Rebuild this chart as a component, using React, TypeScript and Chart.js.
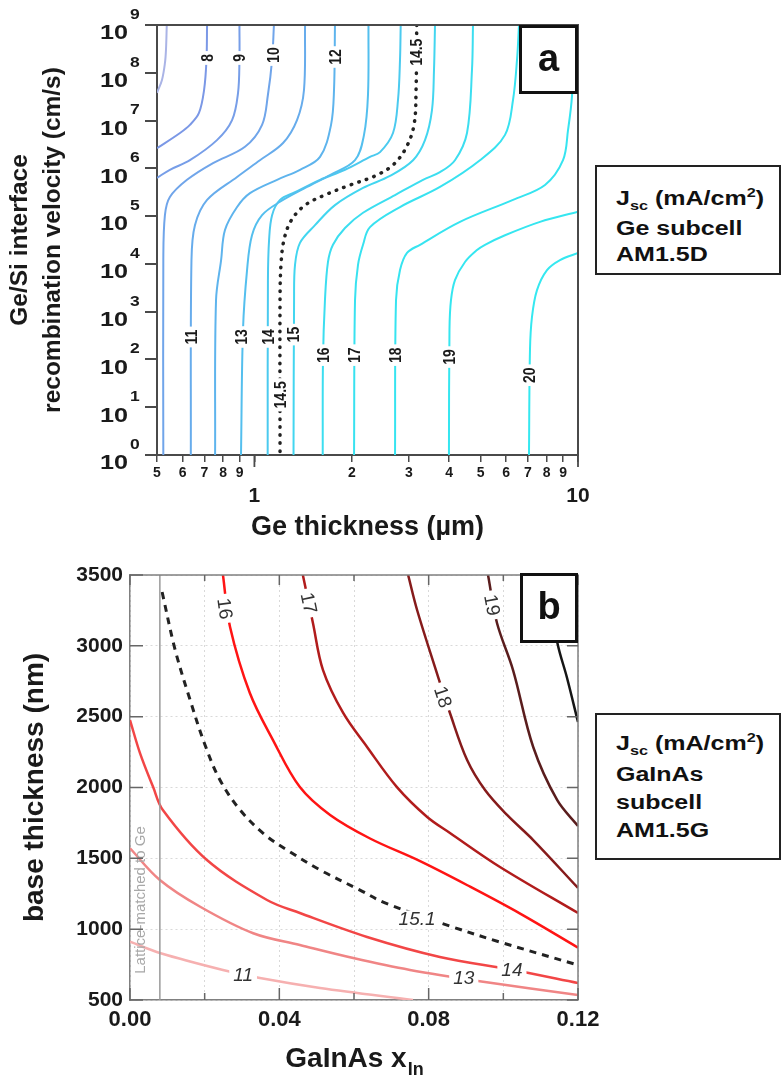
import React, { useEffect, useRef } from 'react';
import { Chart, registerables } from 'chart.js';

Chart.register(...registerables);

type Pt = [number, number];

const FONT = '"Liberation Sans", Arial, Helvetica, sans-serif';

// ======================= Panel (a) data =======================
// Ge thickness (µm) on x, Ge/Si interface recombination velocity (cm/s) on y.
// Contour points are [thickness µm, log10(velocity)].
const A_X_TICKS = [0.5, 0.6, 0.7, 0.8, 0.9, 1, 2, 3, 4, 5, 6, 7, 8, 9, 10];
const A_X_TICK_LABELS = ['5', '6', '7', '8', '9', '1', '2', '3', '4', '5', '6', '7', '8', '9', '10'];
const A_X_MAJOR_TICKS = [1, 10];
const A_Y_EXPONENTS = [0, 1, 2, 3, 4, 5, 6, 7, 8, 9];

const A_JSC_07: Pt[] = [[0.536, 9], [0.533, 8.48], [0.529, 8.2], [0.518, 7.85], [0.5, 7.58]];
const A_JSC_08: Pt[] = [[0.714, 9], [0.711, 8.27], [0.699, 7.64], [0.674, 7.16], [0.632, 6.91], [0.589, 6.74], [0.5, 6.42]];
const A_JSC_09: Pt[] = [[0.899, 9], [0.899, 8.27], [0.89, 7.58], [0.853, 7.01], [0.766, 6.59], [0.632, 6.17], [0.548, 5.97], [0.5, 5.8]];
const A_JSC_10: Pt[] = [[1.149, 9], [1.134, 8.27], [1.101, 7.54], [1.056, 6.91], [0.935, 6.45], [0.745, 6.11], [0.619, 5.76], [0.548, 5.4], [0.529, 5.02], [0.523, 4.08], [0.523, 0]];
const A_JSC_11: Pt[] = [[1.434, 9], [1.423, 7.64], [1.354, 7.01], [1.226, 6.53], [1.04, 6.17], [0.884, 5.82], [0.714, 5.34], [0.655, 4.81], [0.639, 4.08], [0.636, 0]];
const A_JSC_12: Pt[] = [[1.774, 9], [1.762, 7.64], [1.725, 6.91], [1.595, 6.24], [1.383, 5.97], [1.175, 5.76], [0.969, 5.48], [0.884, 5.19], [0.811, 4.71], [0.789, 4.08], [0.761, 3.24], [0.756, 0]];
const A_JSC_13: Pt[] = [[2.252, 9], [2.244, 7.54], [2.181, 6.7], [2.046, 6.17], [1.712, 5.86], [1.454, 5.61], [1.2, 5.3], [1.056, 5.02], [0.983, 4.6], [0.949, 3.87], [0.922, 2.62], [0.909, 0]];
const A_JSC_14: Pt[] = [[2.832, 9], [2.818, 8.27], [2.778, 7.43], [2.681, 6.74], [2.445, 6.34], [2.276, 6.24], [1.905, 5.97], [1.595, 5.76], [1.335, 5.5], [1.2, 5.34], [1.134, 5.02], [1.11, 4.5], [1.101, 3.66], [1.099, 0]];
const A_JSC_145: Pt[] = [[3.174, 9], [3.159, 7.64], [3.114, 6.91], [2.942, 6.43], [2.681, 6.07], [2.359, 5.84], [1.975, 5.65], [1.676, 5.46], [1.434, 5.23], [1.297, 4.9], [1.234, 4.5], [1.208, 3.98], [1.2, 3.24], [1.2, 0]];
const A_JSC_15: Pt[] = [[3.615, 9], [3.589, 8.06], [3.538, 7.22], [3.366, 6.59], [3.092, 6.17], [2.624, 5.84], [2.166, 5.59], [1.774, 5.23], [1.539, 4.81], [1.383, 4.44], [1.335, 3.98], [1.326, 3.24], [1.321, 0]];
const A_JSC_16: Pt[] = [[4.737, 9], [4.703, 8.06], [4.539, 6.74], [4.167, 6.17], [3.745, 5.92], [3.319, 5.76], [2.72, 5.44], [2.166, 5.07], [1.905, 4.75], [1.749, 4.4], [1.688, 4.04], [1.652, 3.24], [1.629, 1.99], [1.626, 0]];
const A_JSC_17: Pt[] = [[6.572, 9], [6.479, 8.27], [6.297, 7.43], [5.949, 6.7], [4.978, 6.17], [3.745, 5.61], [2.818, 5.19], [2.276, 4.77], [2.166, 4.4], [2.09, 3.98], [2.046, 3.24], [2.032, 0]];
const A_JSC_18: Pt[] = [[9.789, 9], [9.582, 7.51], [9.314, 6.8], [8.988, 6.17], [7.907, 5.65], [6.297, 5.34], [4.318, 4.88], [3.249, 4.4], [2.962, 4.23], [2.818, 3.87], [2.739, 3.24], [2.72, 0]];
const A_JSC_19: Pt[] = [[10, 5.09], [7.631, 4.88], [5.949, 4.6], [5.159, 4.4], [4.874, 4.29], [4.475, 4.04], [4.167, 3.66], [4.05, 3.24], [4.007, 2.62], [3.992, 0]];
const A_JSC_20: Pt[] = [[10, 4.23], [8.798, 4.08], [8.02, 3.87], [7.469, 3.45], [7.208, 2.89], [7.106, 2.2], [7.055, 0]];

const A_LEVELS = [7, 8, 9, 10, 11, 12, 13, 14, 14.5, 15, 16, 17, 18, 19, 20];
const A_CONTOURS: Pt[][] = [A_JSC_07, A_JSC_08, A_JSC_09, A_JSC_10, A_JSC_11, A_JSC_12, A_JSC_13, A_JSC_14, A_JSC_145, A_JSC_15, A_JSC_16, A_JSC_17, A_JSC_18, A_JSC_19, A_JSC_20];

const A_LABEL_TEXT = ['8', '9', '10', '12', '14.5', '11', '13', '14', '14.5', '15', '16', '17', '18', '19', '20'];
const A_LABEL_X = [0.714, 0.899, 1.141, 1.774, 3.167, 0.636, 0.909, 1.099, 1.2, 1.321, 1.626, 2.032, 2.72, 3.992, 7.055];
const A_LABEL_LOGV = [8.31, 8.31, 8.37, 8.33, 8.43, 2.47, 2.47, 2.47, 1.26, 2.52, 2.09, 2.09, 2.09, 2.05, 1.67];

// ======================= Panel (b) data =======================
// GaInAs x_In on x, base thickness (nm) on y. Points are [x_In, thickness nm].
const B_X_TICKS = [0, 0.02, 0.04, 0.06, 0.08, 0.1, 0.12];
const B_X_TICK_LABELS = ['0.00', '', '0.04', '', '0.08', '', '0.12'];
const B_Y_TICKS = [500, 1000, 1500, 2000, 2500, 3000, 3500];
const LATTICE_MATCHED_X = 0.008;

const B_JSC_11: Pt[] = [[0, 911], [0.008, 832], [0.0249, 712], [0.0348, 655], [0.0509, 585], [0.0758, 500]];
const B_JSC_13: Pt[] = [[0, 1571], [0.008, 1347], [0.0188, 1158], [0.033, 971], [0.0455, 888], [0.0598, 796], [0.075, 712], [0.0946, 629], [0.12, 535]];
const B_JSC_14: Pt[] = [[0, 2476], [0.0027, 2241], [0.0062, 2003], [0.0088, 1841], [0.0206, 1488], [0.0367, 1206], [0.0455, 1114], [0.0635, 945], [0.083, 804], [0.1026, 712], [0.12, 620]];
const B_JSC_151: Pt[] = [[0.0086, 3380], [0.0121, 2971], [0.0161, 2618], [0.0201, 2300], [0.0241, 2053], [0.0295, 1841], [0.0362, 1665], [0.0429, 1545], [0.0509, 1418], [0.0616, 1276], [0.0683, 1185], [0.0857, 1022], [0.0991, 909], [0.12, 747]];
const B_JSC_16: Pt[] = [[0.0249, 3500], [0.0268, 3133], [0.0321, 2667], [0.0383, 2335], [0.0455, 2003], [0.0536, 1806], [0.0643, 1640], [0.0777, 1480], [0.0911, 1300], [0.1045, 1110], [0.12, 870]];
const B_JSC_17: Pt[] = [[0.0463, 3500], [0.049, 3161], [0.0517, 2829], [0.0571, 2526], [0.0635, 2286], [0.0715, 2003], [0.0796, 1792], [0.0857, 1679], [0.0991, 1439], [0.12, 1114]];
const B_JSC_18: Pt[] = [[0.0745, 3500], [0.0769, 3253], [0.0822, 2808], [0.0857, 2526], [0.0903, 2194], [0.0951, 1982], [0.101, 1806], [0.108, 1629], [0.12, 1291]];
const B_JSC_19: Pt[] = [[0.0959, 3500], [0.0983, 3161], [0.1026, 2829], [0.108, 2286], [0.1144, 1912], [0.12, 1728]];
const B_JSC_20: Pt[] = [[0.111, 3500], [0.1146, 3006], [0.117, 2780], [0.12, 2462]];

const B_LEVELS = [11, 13, 14, 15.1, 16, 17, 18, 19, 20];
const B_CONTOURS: Pt[][] = [B_JSC_11, B_JSC_13, B_JSC_14, B_JSC_151, B_JSC_16, B_JSC_17, B_JSC_18, B_JSC_19, B_JSC_20];

const B_LABEL_TEXT = ['11', '13', '14', '15.1', '16', '17', '18', '19'];
const B_LABEL_X = [0.0303, 0.0894, 0.1023, 0.0769, 0.0254, 0.0479, 0.0838, 0.097];
const B_LABEL_Y = [676, 655, 712, 1072, 3263, 3302, 2639, 3288];

// ======================= styles =======================
const A_COLORS = ['#aab4e6', '#7b98e6', '#779ee8', '#70a5ea', '#67acec', '#5eb4ed', '#54bfee', '#4bcaef', '#222222', '#42d6f0', '#3cdef0', '#38e2f0', '#36e4f0', '#35e6f0', '#35e8f0'];
const B_COLORS = ['#f6b0b0', '#f08585', '#f24646', '#222222', '#ff1414', '#b11c1c', '#861b1b', '#5a1d1d', '#151515'];
const B_LABEL_ALONG_LINE = [false, false, false, false, true, true, true, true];

function drawText(ctx: CanvasRenderingContext2D, text: string, x: number, y: number, font: string, opts: { align?: CanvasTextAlign; baseline?: CanvasTextBaseline; color?: string; angle?: number; sx?: number } = {}) {
  ctx.save();
  ctx.translate(x, y);
  ctx.scale(opts.sx ?? 1, 1);
  if (opts.angle) ctx.rotate(opts.angle);
  ctx.font = font;
  ctx.fillStyle = opts.color ?? '#1a1a1a';
  ctx.textAlign = opts.align ?? 'center';
  ctx.textBaseline = opts.baseline ?? 'middle';
  ctx.fillText(text, 0, 0);
  ctx.restore();
}

function drawContourLabel(ctx: CanvasRenderingContext2D, text: string, x: number, y: number, angle: number, size: number, font: string, color: string, sx: number, gap: number) {
  ctx.save();
  ctx.translate(x, y);
  ctx.scale(sx, 1);
  ctx.rotate(angle);
  ctx.font = font;
  const w = ctx.measureText(text).width;
  ctx.fillStyle = '#ffffff';
  ctx.fillRect(-w / 2 - gap, -size * 0.45, w + 2 * gap, size * 0.9);
  ctx.fillStyle = color;
  ctx.textAlign = 'center';
  ctx.textBaseline = 'middle';
  ctx.fillText(text, 0, 1);
  ctx.restore();
}

function drawPanelBox(ctx: CanvasRenderingContext2D, letter: string, l: number, t: number, r: number, b: number) {
  ctx.save();
  ctx.fillStyle = '#fff';
  ctx.fillRect(l, t, r - l, b - t);
  ctx.strokeStyle = '#111';
  ctx.lineWidth = 3;
  ctx.strokeRect(l + 1.5, t + 1.5, r - l - 3, b - t - 3);
  ctx.restore();
  drawText(ctx, letter, (l + r) / 2, (t + b) / 2 + 1, 'bold 38px ' + FONT, { color: '#111' });
}

const panelAPlugin = {
  id: 'panelA',
  afterDatasetsDraw(chart: any) {
    const ctx: CanvasRenderingContext2D = chart.ctx;
    const xs = chart.scales.x;
    const ys = chart.scales.y;
    A_LABEL_TEXT.forEach((t, i) => {
      const px = xs.getPixelForValue(A_LABEL_X[i]);
      const py = ys.getPixelForValue(Math.pow(10, A_LABEL_LOGV[i]));
      drawContourLabel(ctx, t, px, py, -Math.PI / 2, 14, 'bold 14px ' + FONT, '#1a1a1a', 1.2, 3);
    });
  },
  afterDraw(chart: any) {
    const ctx: CanvasRenderingContext2D = chart.ctx;
    const { left, right, top, bottom } = chart.chartArea;
    const xs = chart.scales.x;
    const ys = chart.scales.y;
    ctx.save();
    ctx.strokeStyle = '#4a4a4a';
    ctx.lineWidth = 2;
    ctx.beginPath();
    ctx.moveTo(left - 1, top);
    ctx.lineTo(right, top);
    ctx.lineTo(right, bottom + 1);
    ctx.stroke();
    // longer major ticks on x
    ctx.lineWidth = 1.8;
    A_X_MAJOR_TICKS.forEach((v) => {
      const px = xs.getPixelForValue(v);
      ctx.beginPath();
      ctx.moveTo(px, bottom);
      ctx.lineTo(px, bottom + 12);
      ctx.stroke();
    });
    ctx.restore();
    // y tick labels 10^n
    A_Y_EXPONENTS.forEach((e) => {
      const py = ys.getPixelForValue(Math.pow(10, e));
      drawText(ctx, '10', left - 29, py + 8.5, 'bold 21px ' + FONT, { align: 'right', sx: 1.2 });
      drawText(ctx, String(e), left - 27, py - 10, 'bold 14px ' + FONT, { align: 'left', sx: 1.25 });
    });
    // axis titles
    const cy = (top + bottom) / 2;
    drawText(ctx, 'Ge/Si interface', 20, cy, 'bold 24.5px ' + FONT, { angle: -Math.PI / 2 });
    drawText(ctx, 'recombination velocity (cm/s)', 53, cy, 'bold 24.5px ' + FONT, { angle: -Math.PI / 2 });
    drawText(ctx, 'Ge thickness (\u00b5m)', (left + right) / 2, 535, 'bold 27px ' + FONT, { baseline: 'alphabetic' });
    drawPanelBox(ctx, 'a', 519, 25, 578, 94);
  },
};

const panelBPlugin = {
  id: 'panelB',
  afterDatasetsDraw(chart: any) {
    const ctx: CanvasRenderingContext2D = chart.ctx;
    const xs = chart.scales.x;
    const ys = chart.scales.y;
    // lattice-matched annotation
    drawText(ctx, 'Lattice-matched to Ge', xs.getPixelForValue(0.0029), ys.getPixelForValue(1206), '15px ' + FONT, { angle: -Math.PI / 2, color: '#a8a8a8' });
    B_LABEL_TEXT.forEach((t, i) => {
      const px = xs.getPixelForValue(B_LABEL_X[i]);
      const py = ys.getPixelForValue(B_LABEL_Y[i]);
      if (B_LABEL_ALONG_LINE[i]) {
        const pts = B_CONTOURS[B_LEVELS.indexOf(Number(t))].map(([x, y]) => [xs.getPixelForValue(x), ys.getPixelForValue(y)]);
        let ang = Math.PI / 2;
        for (let k = 0; k < pts.length - 1; k++) {
          const [x1, y1] = pts[k];
          const [x2, y2] = pts[k + 1];
          if ((py - y1) * (py - y2) <= 0) {
            ang = Math.atan2(y2 - y1, x2 - x1);
            break;
          }
        }
        drawContourLabel(ctx, t, px, py, ang, 19, '19px ' + FONT, '#333', 1, 4);
      } else {
        drawContourLabel(ctx, t, px, py, 0, 19, 'italic 19px ' + FONT, '#333', 1, 4);
      }
    });
  },
  afterDraw(chart: any) {
    const ctx: CanvasRenderingContext2D = chart.ctx;
    const { left, right, top, bottom } = chart.chartArea;
    const xs = chart.scales.x;
    const ys = chart.scales.y;
    ctx.save();
    ctx.strokeStyle = '#808080';
    ctx.lineWidth = 1.5;
    ctx.beginPath();
    ctx.moveTo(left, top);
    ctx.lineTo(right, top);
    ctx.lineTo(right, bottom);
    ctx.stroke();
    ctx.strokeStyle = '#666';
    ctx.lineWidth = 1.5;
    B_X_TICKS.forEach((v, i) => {
      const px = xs.getPixelForValue(v);
      const labelled = B_X_TICK_LABELS[i] !== '';
      ctx.beginPath();
      ctx.moveTo(px, bottom);
      ctx.lineTo(px, bottom - (labelled ? 12 : 7));
      ctx.moveTo(px, top);
      ctx.lineTo(px, top + (labelled ? 10 : 6));
      ctx.stroke();
    });
    B_Y_TICKS.forEach((v) => {
      const py = ys.getPixelForValue(v);
      ctx.beginPath();
      ctx.moveTo(left, py);
      ctx.lineTo(left + 13, py);
      ctx.moveTo(right, py);
      ctx.lineTo(right - 11, py);
      ctx.stroke();
    });
    ctx.restore();
    // axis titles
    drawText(ctx, 'base thickness (nm)', 35, (top + bottom) / 2, 'bold 28px ' + FONT, { angle: -Math.PI / 2 });
    ctx.save();
    ctx.font = 'bold 28px ' + FONT;
    const w1 = ctx.measureText('GaInAs x').width;
    ctx.font = 'bold 18px ' + FONT;
    const w2 = ctx.measureText('In').width;
    ctx.restore();
    const x0 = (left + right) / 2 - (w1 + w2) / 2;
    drawText(ctx, 'GaInAs x', x0, 527, 'bold 28px ' + FONT, { align: 'left', baseline: 'alphabetic' });
    drawText(ctx, 'In', x0 + w1 + 1, 535, 'bold 18px ' + FONT, { align: 'left', baseline: 'alphabetic' });
    drawPanelBox(ctx, 'b', 520, 33, 578, 103);
  },
};

function makeConfigA(): any {
  const datasets = A_CONTOURS.map((pts, i) => {
    const dotted = A_LEVELS[i] === 14.5;
    return {
      label: 'Jsc ' + A_LEVELS[i],
      data: pts.map(([x, e]) => ({ x, y: Math.pow(10, e) })),
      borderColor: A_COLORS[i],
      borderWidth: dotted ? 3.5 : 2,
      borderDash: dotted ? [0.5, 7.5] : [],
      borderCapStyle: dotted ? 'round' : 'butt',
      pointRadius: 0,
      showLine: true,
      fill: false,
      tension: 0.35,
    };
  });
  return {
    type: 'scatter',
    data: { datasets },
    plugins: [panelAPlugin],
    options: {
      animation: false,
      responsive: false,
      maintainAspectRatio: false,
      events: [],
      layout: { padding: { left: 57, right: 203, top: 25, bottom: 25 } },
      plugins: { legend: { display: false }, tooltip: { enabled: false }, title: { display: false } },
      scales: {
        x: {
          type: 'logarithmic',
          min: 0.5,
          max: 10,
          position: 'bottom',
          afterBuildTicks: (s: any) => { s.ticks = A_X_TICKS.map((v) => ({ value: v })); },
          afterFit: (s: any) => { s.height = 60; },
          ticks: {
            autoSkip: false,
            maxRotation: 0,
            minRotation: 0,
            padding: 3,
            color: '#1a1a1a',
            callback: (_v: any, i: number) => (A_X_MAJOR_TICKS.includes(A_X_TICKS[i]) ? ['', A_X_TICK_LABELS[i]] : A_X_TICK_LABELS[i]),
            font: (c: any) => {
              const major = c.tick && A_X_MAJOR_TICKS.includes(c.tick.value);
              return { family: FONT, size: major ? 21 : 14, weight: 'bold', lineHeight: major ? 1.0 : 1.2 };
            },
          },
          grid: { display: true, drawOnChartArea: false, drawTicks: true, tickLength: 7, color: '#4a4a4a', lineWidth: 1.5 },
          border: { display: true, color: '#4a4a4a', width: 2 },
        },
        y: {
          type: 'logarithmic',
          min: 1,
          max: 1e9,
          afterBuildTicks: (s: any) => { s.ticks = A_Y_EXPONENTS.map((e) => ({ value: Math.pow(10, e) })); },
          afterFit: (s: any) => { s.width = 100; },
          ticks: { display: false },
          grid: { display: true, drawOnChartArea: false, drawTicks: true, tickLength: 12, color: '#4a4a4a', lineWidth: 2 },
          border: { display: true, color: '#4a4a4a', width: 2 },
        },
      },
    },
  };
}

function makeConfigB(): any {
  const datasets: any[] = B_CONTOURS.map((pts, i) => {
    const dashed = B_LEVELS[i] === 15.1;
    return {
      label: 'Jsc ' + B_LEVELS[i],
      data: pts.map(([x, y]) => ({ x, y })),
      borderColor: B_COLORS[i],
      borderWidth: dashed ? 3 : 2.5,
      borderDash: dashed ? [7, 6] : [],
      pointRadius: 0,
      showLine: true,
      fill: false,
      tension: 0.35,
    };
  });
  datasets.unshift({
    label: 'Lattice-matched to Ge',
    data: [{ x: LATTICE_MATCHED_X, y: B_Y_TICKS[0] }, { x: LATTICE_MATCHED_X, y: B_Y_TICKS[B_Y_TICKS.length - 1] }],
    borderColor: '#9a9a9a',
    borderWidth: 1.5,
    pointRadius: 0,
    showLine: true,
    fill: false,
  });
  const axisCommon = {
    grid: { color: '#d9d9d9', lineWidth: 1, drawTicks: false },
    border: { display: true, color: '#808080', width: 1.5, dash: [2, 3] },
  };
  return {
    type: 'scatter',
    data: { datasets },
    plugins: [panelBPlugin],
    options: {
      animation: false,
      responsive: false,
      maintainAspectRatio: false,
      events: [],
      layout: { padding: { left: 30, right: 203, top: 35, bottom: 20 } },
      plugins: { legend: { display: false }, tooltip: { enabled: false }, title: { display: false } },
      scales: {
        x: {
          type: 'linear',
          min: 0,
          max: 0.12,
          afterBuildTicks: (s: any) => { s.ticks = B_X_TICKS.map((v) => ({ value: v })); },
          afterFit: (s: any) => { s.height = 60; },
          ticks: {
            autoSkip: false,
            maxRotation: 0,
            minRotation: 0,
            padding: 7,
            color: '#1a1a1a',
            font: { family: FONT, size: 22, weight: 'bold' },
            callback: (_v: any, i: number) => B_X_TICK_LABELS[i],
          },
          ...axisCommon,
        },
        y: {
          type: 'linear',
          min: 500,
          max: 3500,
          afterBuildTicks: (s: any) => { s.ticks = B_Y_TICKS.map((v) => ({ value: v })); },
          afterFit: (s: any) => { s.width = 100; },
          ticks: {
            autoSkip: false,
            padding: 7,
            color: '#1a1a1a',
            font: { family: FONT, size: 21, weight: 'bold' },
            callback: (_v: any, i: number) => String(B_Y_TICKS[i]),
          },
          ...axisCommon,
        },
      },
    },
  };
}

const legendText: React.CSSProperties = {
  position: 'absolute',
  left: 19,
  font: 'bold 20px ' + FONT,
  color: '#111',
  whiteSpace: 'nowrap',
  transform: 'scaleX(1.25)',
  transformOrigin: 'left top',
};

const subStyle: React.CSSProperties = { fontSize: 13, position: 'relative', top: 5 };
const supStyle: React.CSSProperties = { fontSize: 13, position: 'relative', top: -8 };

export default function App() {
  const refA = useRef<HTMLCanvasElement>(null);
  const refB = useRef<HTMLCanvasElement>(null);

  useEffect(() => {
    const a = new Chart(refA.current as HTMLCanvasElement, makeConfigA());
    const b = new Chart(refB.current as HTMLCanvasElement, makeConfigB());
    return () => {
      a.destroy();
      b.destroy();
    };
  }, []);

  return (
    <div style={{ position: 'absolute', left: 0, top: 0, width: 781, height: 1080, background: '#fff', overflow: 'hidden' }}>
      <canvas ref={refA} width={781} height={540} style={{ position: 'absolute', left: 0, top: 0, width: 781, height: 540 }} />
      <canvas ref={refB} width={781} height={540} style={{ position: 'absolute', left: 0, top: 540, width: 781, height: 540 }} />
      <div style={{ position: 'absolute', left: 595, top: 165, width: 186, height: 110, border: '2px solid #222', boxSizing: 'border-box', background: '#fff' }}>
        <div style={{ ...legendText, top: 18, lineHeight: '26.5px' }}>
          J<span style={subStyle}>sc</span> (mA/cm<span style={supStyle}>2</span>)<br />Ge subcell<br />AM1.5D
        </div>
      </div>
      <div style={{ position: 'absolute', left: 595, top: 713, width: 186, height: 147, border: '2px solid #222', boxSizing: 'border-box', background: '#fff' }}>
        <div style={{ ...legendText, top: 14, lineHeight: '28px' }}>
          J<span style={subStyle}>sc</span> (mA/cm<span style={supStyle}>2</span>)<br />GaInAs<br />subcell<br />AM1.5G
        </div>
      </div>
    </div>
  );
}
